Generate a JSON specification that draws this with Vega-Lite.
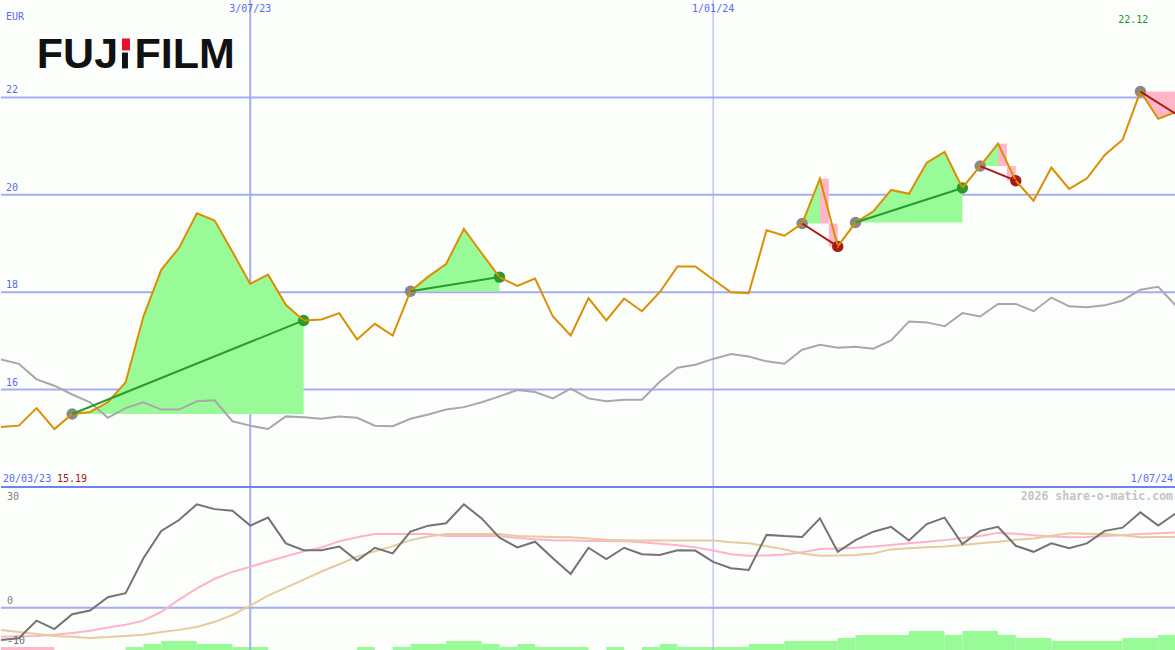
{
  "$schema": "https://vega.github.io/schema/vega-lite/v6.json",
  "background": "#fcfefc",
  "padding": 0,
  "spacing": 0,
  "bounds": "flush",
  "config": {
    "view": {"stroke": null},
    "text": {"font": "DejaVu Sans Mono", "fontSize": 10}
  },
  "datasets": {
    "weekly": [
      {"d":"2023-03-27","p":15.23,"c":16.62,"m":-8.0,"a":-7.2,"b":-5.5},
      {"d":"2023-04-03","p":15.26,"c":16.53,"m":-7.6,"a":-7.1,"b":-6.0},
      {"d":"2023-04-10","p":15.62,"c":16.21,"m":-3.2,"a":-7.0,"b":-6.5},
      {"d":"2023-04-17","p":15.19,"c":16.08,"m":-5.3,"a":-6.7,"b":-7.0},
      {"d":"2023-04-24","p":15.50,"c":15.90,"m":-1.6,"a":-6.3,"b":-7.2},
      {"d":"2023-05-01","p":15.54,"c":15.74,"m":-0.7,"a":-5.7,"b":-7.5},
      {"d":"2023-05-08","p":15.74,"c":15.42,"m":2.6,"a":-4.9,"b":-7.3},
      {"d":"2023-05-15","p":16.15,"c":15.62,"m":3.6,"a":-4.2,"b":-7.0},
      {"d":"2023-05-22","p":17.50,"c":15.74,"m":12.3,"a":-3.2,"b":-6.7},
      {"d":"2023-05-29","p":18.46,"c":15.59,"m":19.1,"a":-1.0,"b":-6.0},
      {"d":"2023-06-05","p":18.91,"c":15.59,"m":21.8,"a":2.0,"b":-5.5},
      {"d":"2023-06-12","p":19.62,"c":15.76,"m":25.7,"a":4.8,"b":-4.8},
      {"d":"2023-06-19","p":19.47,"c":15.78,"m":24.5,"a":7.2,"b":-3.5},
      {"d":"2023-06-26","p":18.83,"c":15.35,"m":24.1,"a":8.9,"b":-1.8},
      {"d":"2023-07-03","p":18.17,"c":15.26,"m":20.4,"a":10.2,"b":0.5},
      {"d":"2023-07-10","p":18.36,"c":15.19,"m":22.4,"a":11.5,"b":3.0},
      {"d":"2023-07-17","p":17.74,"c":15.45,"m":16.0,"a":12.8,"b":5.0},
      {"d":"2023-07-24","p":17.42,"c":15.43,"m":14.3,"a":14.0,"b":7.0},
      {"d":"2023-07-31","p":17.44,"c":15.40,"m":14.3,"a":15.0,"b":9.0},
      {"d":"2023-08-07","p":17.57,"c":15.45,"m":15.2,"a":16.5,"b":10.8},
      {"d":"2023-08-14","p":17.03,"c":15.42,"m":11.7,"a":17.5,"b":12.7},
      {"d":"2023-08-21","p":17.35,"c":15.26,"m":14.9,"a":18.3,"b":14.0},
      {"d":"2023-08-28","p":17.11,"c":15.25,"m":13.5,"a":18.3,"b":15.3},
      {"d":"2023-09-04","p":18.02,"c":15.40,"m":18.9,"a":18.3,"b":16.8},
      {"d":"2023-09-11","p":18.32,"c":15.49,"m":20.4,"a":18.3,"b":17.7},
      {"d":"2023-09-18","p":18.58,"c":15.59,"m":21.0,"a":17.8,"b":18.3},
      {"d":"2023-09-25","p":19.30,"c":15.64,"m":25.7,"a":17.8,"b":18.3},
      {"d":"2023-10-02","p":18.80,"c":15.74,"m":22.2,"a":17.8,"b":18.3},
      {"d":"2023-10-09","p":18.31,"c":15.86,"m":17.4,"a":17.8,"b":18.3},
      {"d":"2023-10-16","p":18.13,"c":15.99,"m":15.0,"a":17.3,"b":17.8},
      {"d":"2023-10-23","p":18.28,"c":15.95,"m":16.4,"a":17.0,"b":17.7},
      {"d":"2023-10-30","p":17.50,"c":15.82,"m":12.3,"a":16.8,"b":17.6},
      {"d":"2023-11-06","p":17.11,"c":16.02,"m":8.4,"a":16.7,"b":17.5},
      {"d":"2023-11-13","p":17.88,"c":15.82,"m":14.9,"a":16.6,"b":17.2},
      {"d":"2023-11-20","p":17.42,"c":15.76,"m":12.1,"a":16.6,"b":16.9},
      {"d":"2023-11-27","p":17.87,"c":15.79,"m":14.9,"a":16.5,"b":16.8},
      {"d":"2023-12-04","p":17.61,"c":15.79,"m":13.3,"a":16.3,"b":16.7},
      {"d":"2023-12-11","p":18.00,"c":16.16,"m":13.1,"a":15.9,"b":16.7},
      {"d":"2023-12-18","p":18.53,"c":16.45,"m":14.3,"a":15.5,"b":16.7},
      {"d":"2023-12-25","p":18.53,"c":16.51,"m":14.2,"a":15.0,"b":16.7},
      {"d":"2024-01-01","p":18.26,"c":16.63,"m":11.4,"a":14.2,"b":16.7},
      {"d":"2024-01-08","p":18.00,"c":16.73,"m":9.8,"a":13.3,"b":16.3},
      {"d":"2024-01-15","p":17.98,"c":16.68,"m":9.4,"a":12.9,"b":16.0},
      {"d":"2024-01-22","p":19.27,"c":16.58,"m":18.1,"a":13.0,"b":15.3},
      {"d":"2024-01-29","p":19.16,"c":16.53,"m":17.8,"a":13.2,"b":14.5},
      {"d":"2024-02-05","p":19.41,"c":16.82,"m":17.6,"a":13.8,"b":13.5},
      {"d":"2024-02-12","p":20.33,"c":16.92,"m":22.2,"a":14.6,"b":12.9},
      {"d":"2024-02-19","p":18.94,"c":16.86,"m":13.9,"a":14.7,"b":13.0},
      {"d":"2024-02-26","p":19.43,"c":16.88,"m":16.8,"a":14.9,"b":13.1},
      {"d":"2024-03-04","p":19.66,"c":16.84,"m":18.9,"a":15.2,"b":13.5},
      {"d":"2024-03-11","p":20.10,"c":17.01,"m":20.1,"a":15.6,"b":14.5},
      {"d":"2024-03-18","p":20.02,"c":17.40,"m":16.7,"a":16.0,"b":14.8},
      {"d":"2024-03-25","p":20.66,"c":17.38,"m":20.8,"a":16.4,"b":15.0},
      {"d":"2024-04-01","p":20.88,"c":17.30,"m":22.4,"a":16.8,"b":15.2},
      {"d":"2024-04-08","p":20.14,"c":17.57,"m":15.8,"a":17.3,"b":15.6},
      {"d":"2024-04-15","p":20.59,"c":17.50,"m":19.1,"a":17.8,"b":16.0},
      {"d":"2024-04-22","p":21.05,"c":17.76,"m":20.1,"a":18.6,"b":16.4},
      {"d":"2024-04-29","p":20.29,"c":17.76,"m":15.4,"a":18.4,"b":16.9},
      {"d":"2024-05-06","p":19.88,"c":17.61,"m":13.9,"a":18.0,"b":17.2},
      {"d":"2024-05-13","p":20.56,"c":17.89,"m":16.0,"a":17.7,"b":17.9},
      {"d":"2024-05-20","p":20.12,"c":17.71,"m":14.8,"a":17.5,"b":18.5},
      {"d":"2024-05-27","p":20.34,"c":17.69,"m":16.0,"a":17.6,"b":18.4},
      {"d":"2024-06-03","p":20.82,"c":17.73,"m":19.1,"a":17.8,"b":18.3},
      {"d":"2024-06-10","p":21.13,"c":17.83,"m":19.9,"a":18.0,"b":18.0},
      {"d":"2024-06-17","p":22.12,"c":18.05,"m":23.7,"a":18.3,"b":17.5},
      {"d":"2024-06-24","p":21.56,"c":18.11,"m":20.4,"a":18.5,"b":17.6},
      {"d":"2024-07-01","p":21.70,"c":17.72,"m":23.5,"a":18.7,"b":17.6}
    ],
    "gain": [
      {"t":1,"d":"2023-04-24","top":15.50,"base":15.50},
      {"t":1,"d":"2023-05-01","top":15.54,"base":15.50},
      {"t":1,"d":"2023-05-08","top":15.74,"base":15.50},
      {"t":1,"d":"2023-05-15","top":16.15,"base":15.50},
      {"t":1,"d":"2023-05-22","top":17.50,"base":15.50},
      {"t":1,"d":"2023-05-29","top":18.46,"base":15.50},
      {"t":1,"d":"2023-06-05","top":18.91,"base":15.50},
      {"t":1,"d":"2023-06-12","top":19.62,"base":15.50},
      {"t":1,"d":"2023-06-19","top":19.47,"base":15.50},
      {"t":1,"d":"2023-06-26","top":18.83,"base":15.50},
      {"t":1,"d":"2023-07-03","top":18.17,"base":15.50},
      {"t":1,"d":"2023-07-10","top":18.36,"base":15.50},
      {"t":1,"d":"2023-07-17","top":17.74,"base":15.50},
      {"t":1,"d":"2023-07-24","top":17.42,"base":15.50},
      {"t":2,"d":"2023-09-04","top":18.02,"base":18.02},
      {"t":2,"d":"2023-09-11","top":18.32,"base":18.02},
      {"t":2,"d":"2023-09-18","top":18.58,"base":18.02},
      {"t":2,"d":"2023-09-25","top":19.30,"base":18.02},
      {"t":2,"d":"2023-10-02","top":18.80,"base":18.02},
      {"t":2,"d":"2023-10-09","top":18.31,"base":18.02},
      {"t":3,"d":"2024-02-05","top":19.41,"base":19.41},
      {"t":3,"d":"2024-02-12","top":20.33,"base":19.41},
      {"t":4,"d":"2024-02-26","top":19.43,"base":19.43},
      {"t":4,"d":"2024-03-04","top":19.66,"base":19.43},
      {"t":4,"d":"2024-03-11","top":20.10,"base":19.43},
      {"t":4,"d":"2024-03-18","top":20.02,"base":19.43},
      {"t":4,"d":"2024-03-25","top":20.66,"base":19.43},
      {"t":4,"d":"2024-04-01","top":20.88,"base":19.43},
      {"t":4,"d":"2024-04-08","top":20.14,"base":19.43},
      {"t":5,"d":"2024-04-15","top":20.59,"base":20.59},
      {"t":5,"d":"2024-04-22","top":21.05,"base":20.59}
    ],
    "lossArea": [
      {"t":6,"d":"2024-06-17","top":22.12,"base":22.12},
      {"t":6,"d":"2024-06-24","top":21.56,"base":22.12},
      {"t":6,"d":"2024-07-01","top":21.70,"base":22.12}
    ],
    "lossRect": [
      {"d0":"2024-02-12","d1":"2024-02-15T12:00:00Z","hi":20.33,"lo":19.41},
      {"d0":"2024-02-15T12:00:00Z","d1":"2024-02-19","hi":19.41,"lo":18.94},
      {"d0":"2024-04-22","d1":"2024-04-25T12:00:00Z","hi":21.05,"lo":20.59},
      {"d0":"2024-04-25T12:00:00Z","d1":"2024-04-29","hi":20.59,"lo":20.29}
    ],
    "trades": [
      {"t":1,"d":"2023-04-24","v":15.50,"r":"win"},
      {"t":1,"d":"2023-07-24","v":17.42,"r":"win"},
      {"t":2,"d":"2023-09-04","v":18.02,"r":"win"},
      {"t":2,"d":"2023-10-09","v":18.31,"r":"win"},
      {"t":3,"d":"2024-02-05","v":19.41,"r":"loss"},
      {"t":3,"d":"2024-02-19","v":18.94,"r":"loss"},
      {"t":4,"d":"2024-02-26","v":19.43,"r":"win"},
      {"t":4,"d":"2024-04-08","v":20.14,"r":"win"},
      {"t":5,"d":"2024-04-15","v":20.59,"r":"loss"},
      {"t":5,"d":"2024-04-29","v":20.29,"r":"loss"},
      {"t":6,"d":"2024-06-17","v":22.12,"r":"loss"},
      {"t":6,"d":"2024-07-01","v":21.66,"r":"loss"}
    ],
    "points": [
      {"d":"2023-04-24","v":15.50,"k":"entry"},
      {"d":"2023-09-04","v":18.02,"k":"entry"},
      {"d":"2024-02-05","v":19.41,"k":"entry"},
      {"d":"2024-02-26","v":19.43,"k":"entry"},
      {"d":"2024-04-15","v":20.59,"k":"entry"},
      {"d":"2024-06-17","v":22.12,"k":"entry"},
      {"d":"2023-07-24","v":17.42,"k":"win"},
      {"d":"2023-10-09","v":18.31,"k":"win"},
      {"d":"2024-04-08","v":20.14,"k":"win"},
      {"d":"2024-02-19","v":18.94,"k":"loss"},
      {"d":"2024-04-29","v":20.29,"k":"loss"}
    ],
    "bars": [
      {"d0":"2023-03-27","d1":"2023-04-17","lvl":1,"s":"neg"},
      {"d0":"2023-05-15","d1":"2023-05-22","lvl":1,"s":"pos"},
      {"d0":"2023-05-22","d1":"2023-05-29","lvl":2,"s":"pos"},
      {"d0":"2023-05-29","d1":"2023-06-12","lvl":3,"s":"pos"},
      {"d0":"2023-06-12","d1":"2023-06-26","lvl":2,"s":"pos"},
      {"d0":"2023-06-26","d1":"2023-07-10","lvl":1,"s":"pos"},
      {"d0":"2023-08-14","d1":"2023-08-21","lvl":1,"s":"pos"},
      {"d0":"2023-08-28","d1":"2023-09-04","lvl":1,"s":"pos"},
      {"d0":"2023-09-04","d1":"2023-09-18","lvl":2,"s":"pos"},
      {"d0":"2023-09-18","d1":"2023-10-02","lvl":3,"s":"pos"},
      {"d0":"2023-10-02","d1":"2023-10-09","lvl":2,"s":"pos"},
      {"d0":"2023-10-09","d1":"2023-10-16","lvl":1,"s":"pos"},
      {"d0":"2023-10-16","d1":"2023-10-23","lvl":2,"s":"pos"},
      {"d0":"2023-10-23","d1":"2023-11-13","lvl":1,"s":"pos"},
      {"d0":"2023-11-20","d1":"2023-11-27","lvl":1,"s":"pos"},
      {"d0":"2023-12-04","d1":"2023-12-11","lvl":1,"s":"pos"},
      {"d0":"2023-12-11","d1":"2023-12-18","lvl":2,"s":"pos"},
      {"d0":"2023-12-18","d1":"2024-01-15","lvl":1,"s":"pos"},
      {"d0":"2024-01-15","d1":"2024-01-29","lvl":2,"s":"pos"},
      {"d0":"2024-01-29","d1":"2024-02-19","lvl":3,"s":"pos"},
      {"d0":"2024-02-19","d1":"2024-02-26","lvl":4,"s":"pos"},
      {"d0":"2024-02-26","d1":"2024-03-18","lvl":5,"s":"pos"},
      {"d0":"2024-03-18","d1":"2024-04-01","lvl":6.3,"s":"pos"},
      {"d0":"2024-04-01","d1":"2024-04-08","lvl":5,"s":"pos"},
      {"d0":"2024-04-08","d1":"2024-04-22","lvl":6.3,"s":"pos"},
      {"d0":"2024-04-22","d1":"2024-04-29","lvl":5,"s":"pos"},
      {"d0":"2024-04-29","d1":"2024-05-13","lvl":4,"s":"pos"},
      {"d0":"2024-05-13","d1":"2024-06-10","lvl":3,"s":"pos"},
      {"d0":"2024-06-10","d1":"2024-06-24","lvl":4,"s":"pos"},
      {"d0":"2024-06-24","d1":"2024-07-01","lvl":5,"s":"pos"}
    ]
  },
  "vconcat": [
    {
      "width": 1175,
      "height": 487,
      "layer": [
        {
          "data": {"values": [{"g":16},{"g":18},{"g":20},{"g":22}]},
          "mark": {"type": "rule", "color": "#a3adf2", "strokeWidth": 2},
          "encoding": {"y": {"field": "g", "type": "quantitative", "scale": {"domain": [14, 24], "nice": false, "zero": false}, "axis": null}}
        },
        {
          "data": {"values": [{}]},
          "mark": {"type": "rule", "color": "#a3adf2", "strokeWidth": 2, "clip": true},
          "encoding": {"x": {"datum": {"year":2023,"month":7,"date":3,"utc":true}, "type": "temporal", "scale": {"type": "utc", "domain": [{"year":2023,"month":3,"date":27,"utc":true},{"year":2024,"month":7,"date":1,"utc":true}]}, "axis": null}}
        },
        {
          "data": {"values": [{}]},
          "mark": {"type": "rule", "color": "#a3adf2", "strokeWidth": 1, "clip": true},
          "encoding": {"x": {"datum": {"year":2024,"month":1,"date":1,"utc":true}, "type": "temporal"}}
        },
        {
          "data": {"name": "gain"},
          "mark": {"type": "area", "color": "#98fb98", "opacity": 1},
          "encoding": {
            "x": {"field": "d", "type": "temporal"},
            "y": {"field": "top", "type": "quantitative"},
            "y2": {"field": "base"},
            "detail": {"field": "t", "type": "nominal"}
          }
        },
        {
          "data": {"name": "lossArea"},
          "mark": {"type": "area", "color": "#ffb6c8", "opacity": 1, "clip": true},
          "encoding": {
            "x": {"field": "d", "type": "temporal"},
            "y": {"field": "top", "type": "quantitative"},
            "y2": {"field": "base"}
          }
        },
        {
          "data": {"name": "lossRect"},
          "mark": {"type": "rect", "color": "#ffb6c8", "opacity": 1},
          "encoding": {
            "x": {"field": "d0", "type": "temporal"},
            "x2": {"field": "d1"},
            "y": {"field": "hi", "type": "quantitative"},
            "y2": {"field": "lo"}
          }
        },
        {
          "data": {"name": "weekly"},
          "mark": {"type": "line", "color": "#a8a8a8", "strokeWidth": 2, "clip": true},
          "encoding": {
            "x": {"field": "d", "type": "temporal"},
            "y": {"field": "c", "type": "quantitative"}
          }
        },
        {
          "data": {"name": "points"},
          "mark": {"type": "circle", "size": 130, "opacity": 1},
          "encoding": {
            "x": {"field": "d", "type": "temporal"},
            "y": {"field": "v", "type": "quantitative"},
            "color": {"field": "k", "type": "nominal", "scale": {"domain": ["entry","win","loss"], "range": ["#888888","#2a9a2a","#a81a1a"]}, "legend": null}
          }
        },
        {
          "data": {"name": "weekly"},
          "mark": {"type": "line", "color": "#dd8e00", "strokeWidth": 2, "clip": true},
          "encoding": {
            "x": {"field": "d", "type": "temporal"},
            "y": {"field": "p", "type": "quantitative"}
          }
        },
        {
          "data": {"name": "trades"},
          "mark": {"type": "line", "strokeWidth": 2, "clip": true},
          "encoding": {
            "x": {"field": "d", "type": "temporal"},
            "y": {"field": "v", "type": "quantitative"},
            "color": {"field": "r", "type": "nominal", "scale": {"domain": ["entry","win","loss"], "range": ["#888888","#2a9a2a","#a81a1a"]}, "legend": null},
            "detail": {"field": "t", "type": "nominal"}
          }
        },
        {
          "data": {"values": [{"g":16},{"g":18},{"g":20},{"g":22}]},
          "mark": {"type": "text", "align": "left", "baseline": "bottom", "dx": 5, "dy": -2, "color": "#5a6af0"},
          "encoding": {
            "x": {"datum": {"year":2023,"month":3,"date":27,"utc":true}, "type": "temporal"},
            "y": {"field": "g", "type": "quantitative"},
            "text": {"field": "g", "type": "quantitative"}
          }
        },
        {
          "data": {"values": [{}]},
          "mark": {"type": "text", "align": "left", "baseline": "top", "dx": 5, "dy": 12, "color": "#5a6af0"},
          "encoding": {
            "x": {"datum": {"year":2023,"month":3,"date":27,"utc":true}, "type": "temporal"},
            "y": {"datum": 24},
            "text": {"value": "EUR"}
          }
        },
        {
          "data": {"values": [{}]},
          "mark": {"type": "text", "align": "center", "baseline": "top", "dy": 4, "color": "#5a6af0"},
          "encoding": {
            "x": {"datum": {"year":2023,"month":7,"date":3,"utc":true}, "type": "temporal"},
            "y": {"datum": 24},
            "text": {"value": "3/07/23"}
          }
        },
        {
          "data": {"values": [{}]},
          "mark": {"type": "text", "align": "center", "baseline": "top", "dy": 4, "color": "#5a6af0"},
          "encoding": {
            "x": {"datum": {"year":2024,"month":1,"date":1,"utc":true}, "type": "temporal"},
            "y": {"datum": 24},
            "text": {"value": "1/01/24"}
          }
        },
        {
          "data": {"values": [{}]},
          "mark": {"type": "text", "align": "right", "baseline": "top", "dx": 8, "dy": 15, "color": "#1e9a1e"},
          "encoding": {
            "x": {"datum": {"year":2024,"month":6,"date":17,"utc":true}, "type": "temporal"},
            "y": {"datum": 24},
            "text": {"value": "22.12"}
          }
        },
        {
          "data": {"values": [{}]},
          "mark": {"type": "text", "align": "left", "baseline": "bottom", "dx": 2, "dy": -3, "color": "#5a6af0"},
          "encoding": {
            "x": {"datum": {"year":2023,"month":3,"date":27,"utc":true}, "type": "temporal"},
            "y": {"datum": 14},
            "text": {"value": "20/03/23"}
          }
        },
        {
          "data": {"values": [{}]},
          "mark": {"type": "text", "align": "left", "baseline": "bottom", "dx": 56, "dy": -3, "color": "#a01818"},
          "encoding": {
            "x": {"datum": {"year":2023,"month":3,"date":27,"utc":true}, "type": "temporal"},
            "y": {"datum": 14},
            "text": {"value": "15.19"}
          }
        },
        {
          "data": {"values": [{}]},
          "mark": {"type": "text", "align": "right", "baseline": "bottom", "dx": -3, "dy": -3, "color": "#5a6af0"},
          "encoding": {
            "x": {"datum": {"year":2024,"month":7,"date":1,"utc":true}, "type": "temporal"},
            "y": {"datum": 14},
            "text": {"value": "1/07/24"}
          }
        },
        {
          "data": {"values": [{}]},
          "mark": {"type": "text", "align": "left", "baseline": "alphabetic", "font": "Liberation Sans", "fontSize": 43, "fontWeight": "bold", "color": "#111111"},
          "encoding": {
            "x": {"datum": {"year":2023,"month":4,"date":10,"hours":2,"utc":true}, "type": "temporal"},
            "y": {"datum": 22.595},
            "text": {"value": "FUJ"}
          }
        },
        {
          "data": {"values": [{}]},
          "mark": {"type": "text", "align": "left", "baseline": "alphabetic", "font": "Liberation Sans", "fontSize": 43, "fontWeight": "bold", "color": "#111111"},
          "encoding": {
            "x": {"datum": {"year":2023,"month":5,"date":18,"hours":12,"utc":true}, "type": "temporal"},
            "y": {"datum": 22.595},
            "text": {"value": "FILM"}
          }
        },
        {
          "data": {"values": [{}]},
          "mark": {"type": "rect", "color": "#111111"},
          "encoding": {
            "x": {"datum": {"year":2023,"month":5,"date":13,"hours":14,"utc":true}, "type": "temporal"},
            "x2": {"datum": {"year":2023,"month":5,"date":15,"hours":22,"utc":true}},
            "y": {"datum": 22.92},
            "y2": {"datum": 22.595}
          }
        },
        {
          "data": {"values": [{}]},
          "mark": {"type": "rect", "color": "#e8102a"},
          "encoding": {
            "x": {"datum": {"year":2023,"month":5,"date":13,"hours":14,"utc":true}, "type": "temporal"},
            "x2": {"datum": {"year":2023,"month":5,"date":16,"hours":17,"utc":true}},
            "y": {"datum": 23.21},
            "y2": {"datum": 22.965}
          }
        }
      ]
    },
    {
      "width": 1175,
      "height": 163,
      "layer": [
        {
          "data": {"name": "bars"},
          "mark": {"type": "rect", "opacity": 1},
          "encoding": {
            "x": {"field": "d0", "type": "temporal", "scale": {"type": "utc", "domain": [{"year":2023,"month":3,"date":27,"utc":true},{"year":2024,"month":7,"date":1,"utc":true}]}, "axis": null},
            "x2": {"field": "d1"},
            "y": {"field": "lvl", "type": "quantitative", "scale": {"domain": [0, 54], "nice": false, "zero": false}, "axis": null},
            "y2": {"datum": 0},
            "fill": {"field": "s", "type": "nominal", "scale": {"domain": ["pos","neg"], "range": ["#98fb98","#ffb6c8"]}, "legend": null}
          }
        },
        {
          "layer": [
            {
              "data": {"values": [{}]},
              "mark": {"type": "rule", "color": "#a3adf2", "strokeWidth": 2},
              "encoding": {"y": {"datum": 0, "type": "quantitative", "scale": {"domain": [-10.5, 30], "nice": false, "zero": false}, "axis": null}}
            },
            {
              "data": {"values": [{}]},
              "mark": {"type": "rule", "color": "#a3adf2", "strokeWidth": 2, "clip": true},
              "encoding": {"x": {"datum": {"year":2023,"month":7,"date":3,"utc":true}, "type": "temporal"}}
            },
            {
              "data": {"values": [{}]},
              "mark": {"type": "rule", "color": "#a3adf2", "strokeWidth": 1, "clip": true},
              "encoding": {"x": {"datum": {"year":2024,"month":1,"date":1,"utc":true}, "type": "temporal"}}
            },
            {
              "data": {"name": "weekly"},
              "mark": {"type": "line", "color": "#ffb3c9", "strokeWidth": 2, "clip": true},
              "encoding": {
                "x": {"field": "d", "type": "temporal"},
                "y": {"field": "a", "type": "quantitative"}
              }
            },
            {
              "data": {"name": "weekly"},
              "mark": {"type": "line", "color": "#e6cc9c", "strokeWidth": 2, "clip": true},
              "encoding": {
                "x": {"field": "d", "type": "temporal"},
                "y": {"field": "b", "type": "quantitative"}
              }
            },
            {
              "data": {"name": "weekly"},
              "mark": {"type": "line", "color": "#737373", "strokeWidth": 2, "clip": true},
              "encoding": {
                "x": {"field": "d", "type": "temporal"},
                "y": {"field": "m", "type": "quantitative"}
              }
            },
            {
              "data": {"values": [{}]},
              "mark": {"type": "rule", "color": "#6f80f0", "strokeWidth": 2},
              "encoding": {"y": {"datum": 30}}
            },
            {
              "data": {"values": [{}]},
              "mark": {"type": "text", "align": "left", "baseline": "top", "dx": 6, "dy": 5, "color": "#808080"},
              "encoding": {
                "x": {"datum": {"year":2023,"month":3,"date":27,"utc":true}, "type": "temporal"},
                "y": {"datum": 30},
                "text": {"value": "30"}
              }
            },
            {
              "data": {"values": [{}]},
              "mark": {"type": "text", "align": "left", "baseline": "bottom", "dx": 6, "dy": -2, "color": "#808080"},
              "encoding": {
                "x": {"datum": {"year":2023,"month":3,"date":27,"utc":true}, "type": "temporal"},
                "y": {"datum": 0},
                "text": {"value": "0"}
              }
            },
            {
              "data": {"values": [{}]},
              "mark": {"type": "text", "align": "left", "baseline": "bottom", "dx": 6, "dy": -2, "color": "#707070"},
              "encoding": {
                "x": {"datum": {"year":2023,"month":3,"date":27,"utc":true}, "type": "temporal"},
                "y": {"datum": -10},
                "text": {"value": "-10"}
              }
            },
            {
              "data": {"values": [{}]},
              "mark": {"type": "text", "align": "right", "baseline": "top", "dx": -3, "dy": 4, "fontSize": 11.5, "fontWeight": "bold", "color": "#c4c4c4"},
              "encoding": {
                "x": {"datum": {"year":2024,"month":7,"date":1,"utc":true}, "type": "temporal"},
                "y": {"datum": 30},
                "text": {"value": "2026 share-o-matic.com"}
              }
            }
          ]
        }
      ],
      "resolve": {"scale": {"y": "independent"}}
    }
  ]
}
